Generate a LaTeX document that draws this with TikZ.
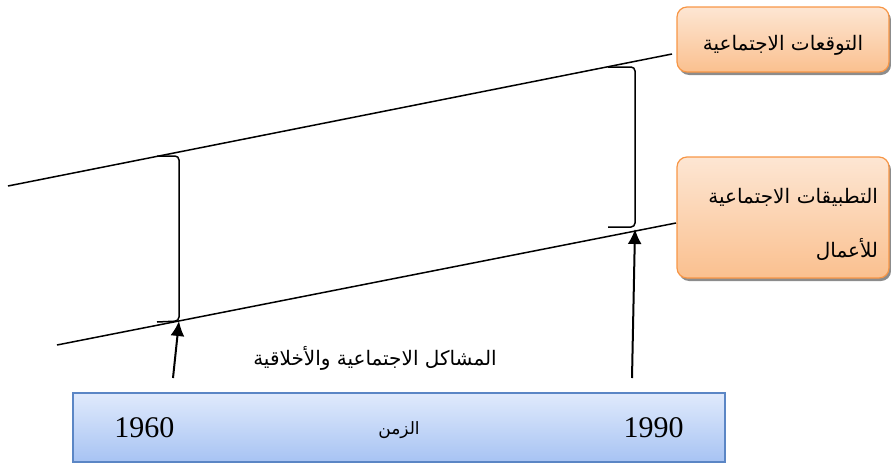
\documentclass[tikz,border=0pt]{standalone}
\usepackage{fontspec}
\setmainfont{Liberation Serif}
\newfontfamily\arabicfont[Script=Arabic]{DejaVu Sans}
\TeXXeTstate=1
\usetikzlibrary{arrows.meta,positioning,shadows}
\definecolor{peachtop}{HTML}{FDE6D3}
\definecolor{peachbot}{HTML}{FAC08F}
\definecolor{amber}{HTML}{F79646}
\definecolor{skytop}{HTML}{E0EAFC}
\definecolor{skybot}{HTML}{A7C3F3}
\definecolor{steel}{HTML}{5B86C5}
\tikzset{
  >={Latex[length=15pt,width=14pt]},
  trend/.style={line width=1.5pt,draw=black},
  bracket/.style={line width=1.5pt,rounded corners=4pt},
  push/.style={->,line width=2pt},
  peachbox/.style={rounded corners=10pt,draw=amber,line width=1.2pt,
    top color=peachtop,bottom color=peachbot,minimum width=212pt,inner sep=0pt,
    drop shadow={shadow xshift=2pt,shadow yshift=-3pt,fill=black!45,opacity=1}},
  timebox/.style={draw=steel,line width=1.5pt,top color=skytop,bottom color=skybot,
    minimum width=652pt,minimum height=69pt},
  year/.style={inner sep=2pt,font=\fontsize{30}{34}\selectfont},
  artext/.style={font=\arabicfont\fontsize{20}{30}\selectfont}
}

\begin{document}
\begin{tikzpicture}[x=1pt,y=-1pt]
  \useasboundingbox (0,0) rectangle (891,463);
  % outcome boxes on the right
  \node[peachbox,minimum height=65pt,artext,text height=23pt,text depth=2pt]
    (expect) at (783,39.5) {\beginR التوقعات الاجتماعية\endR};
  \node[peachbox,minimum height=121pt,text width=190pt,align=right,artext,
    font=\arabicfont\fontsize{20}{54}\selectfont,text height=10pt,text depth=39pt]
    (practice) at (783,217.5)
    {\beginR التطبيقات الاجتماعية\endR\\\beginR للأعمال\endR};
  % time bar
  \node[timebox] (era) at (399,427.5) {};
  \node[year,right=40pt of era.west] (y60) {1960};
  \node[year,left=40pt of era.east] (y90) {1990};
  \node[artext,font=\arabicfont\fontsize{17}{20}\selectfont] (span) at ([yshift=-3pt]era.center) {\beginR الزمن\endR};
  \node[artext] (issues) at (375,358) {\beginR المشاكل الاجتماعية والأخلاقية\endR};
  % the two trend lines
  \coordinate (upL) at (8,186);  \coordinate (upR) at (672,54);
  \coordinate (loL) at (57,345); \coordinate (loR) at (676,223);
  \draw[trend] (upL) -- (upR);
  \draw[trend] (loL) -- (loR);
  % gaps
  \coordinate (from60) at (173,378); \coordinate (hit60) at (179,321);
  \coordinate (from90) at (632,378); \coordinate (hit90) at (635,229);
  \draw[bracket] (157,156) -- (179,156) -- (hit60) -- (157,322);
  \draw[bracket] (608,67) -- (635,67) -- (635,227) -- (608,227);
  \draw[push] (from60) -- (hit60);
  \draw[push] (from90) -- (hit90);
\end{tikzpicture}
\end{document}
